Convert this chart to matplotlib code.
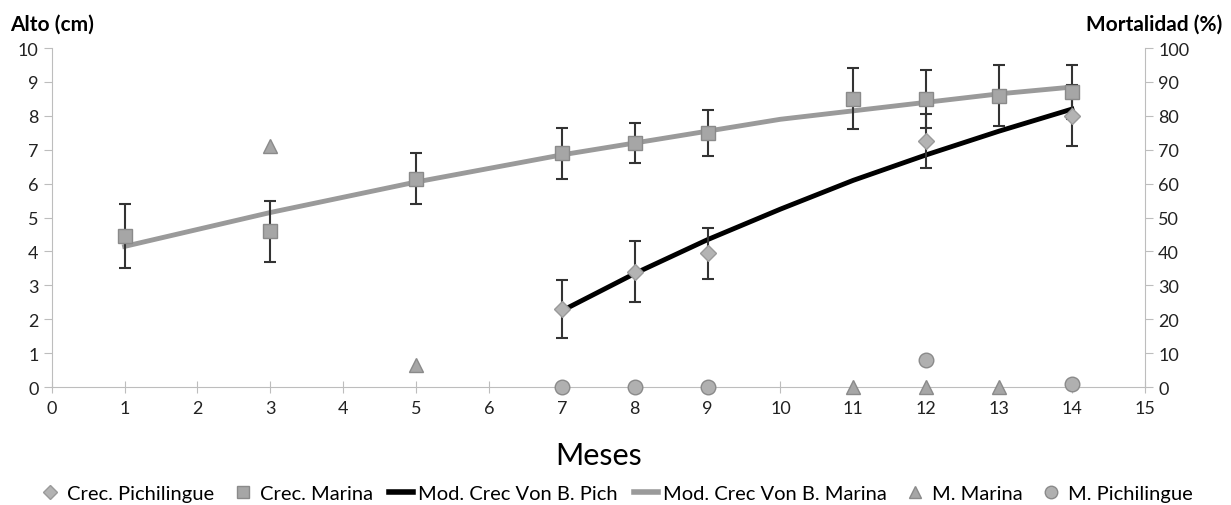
import matplotlib

matplotlib.use("Agg")
import matplotlib.pyplot as plt
from matplotlib.lines import Line2D

plt.rcParams["font.family"] = ["Lato", "DejaVu Sans"]

# crecimiento observado (alto, cm)
MES_PICH = [7, 8, 9, 12, 14]
ALTO_PICH = [2.3, 3.4, 3.95, 7.25, 8.0]
ERR_PICH = [0.85, 0.9, 0.75, 0.8, 0.9]

MES_MAR = [1, 3, 5, 7, 8, 9, 11, 12, 13, 14]
ALTO_MAR = [4.45, 4.6, 6.15, 6.9, 7.2, 7.5, 8.5, 8.5, 8.6, 8.7]
ERR_MAR = [0.95, 0.9, 0.75, 0.75, 0.6, 0.68, 0.9, 0.85, 0.9, 0.8]

# modelo von Bertalanffy
MOD_MAR_X = [1, 3, 5, 7, 8, 9, 10, 11, 12, 13, 14]
MOD_MAR_Y = [4.15, 5.15, 6.05, 6.85, 7.2, 7.55, 7.9, 8.15, 8.4, 8.65, 8.85]
MOD_PICH_X = [7, 8, 9, 10, 11, 12, 13, 14]
MOD_PICH_Y = [2.25, 3.35, 4.35, 5.25, 6.1, 6.85, 7.55, 8.2]

# mortalidad (%)
MORT_MAR_X = [3, 5, 11, 12, 13]
MORT_MAR_Y = [71, 6.5, 0, 0, 0]
MORT_PICH_X = [7, 8, 9, 12, 14]
MORT_PICH_Y = [0, 0, 0, 8, 1]

AXC = "#bdbdbd"
MK = "#a6a6a6"
MKE = "#8a8a8a"

fig = plt.figure(figsize=(12.31, 5.06), dpi=100)
ax = fig.add_axes([0.042, 0.233, 0.888, 0.670])
ax2 = ax.twinx()

ax.plot(MOD_MAR_X, MOD_MAR_Y, color="#9a9a9a", lw=3.5, zorder=2)
ax.plot(MOD_PICH_X, MOD_PICH_Y, color="black", lw=3.5, zorder=2)
ax.errorbar(MES_MAR, ALTO_MAR, yerr=ERR_MAR, fmt="s", ms=10.5, mfc=MK, mec=MKE,
            ecolor="#333333", elinewidth=1.5, capsize=4, capthick=1.5, zorder=3)
ax.errorbar(MES_PICH, ALTO_PICH, yerr=ERR_PICH, fmt="D", ms=8, mfc="#b3b3b3",
            mec="#9a9a9a", ecolor="#333333", elinewidth=1.5, capsize=4,
            capthick=1.5, zorder=3)

ax2.plot(MORT_MAR_X, MORT_MAR_Y, "^", ms=10.5, mfc=MK, mec=MKE, ls="none",
         zorder=3, clip_on=False)
ax2.plot(MORT_PICH_X, MORT_PICH_Y, "o", ms=10.5, mfc="#b0b0b0", mec=MKE,
         ls="none", zorder=3, clip_on=False)

ax.set_xlim(0, 15)
ax.set_ylim(0, 10)
ax2.set_ylim(0, 100)
ax.set_xticks(range(0, 16))
ax.set_yticks(range(0, 11))
ax2.set_yticks(range(0, 101, 10))

for a in (ax, ax2):
    for s in a.spines.values():
        s.set_color(AXC)
    a.spines["top"].set_visible(False)
    a.tick_params(colors=AXC, labelcolor="#222222", labelsize=13, length=6)
ax.tick_params(axis="x", direction="inout", length=8, pad=5)
ax2.spines["left"].set_visible(False)
ax2.spines["bottom"].set_visible(False)
ax.spines["right"].set_visible(False)

ax.set_xlabel("Meses", fontsize=22, labelpad=18)
fig.text(0.008, 0.94, "Alto (cm)", fontsize=15, fontweight="bold", ha="left")
fig.text(0.993, 0.94, "Mortalidad (%)", fontsize=15, fontweight="bold", ha="right")

handles = [
    Line2D([], [], marker="D", ls="none", ms=7, mfc="#b3b3b3", mec="#9a9a9a"),
    Line2D([], [], marker="s", ls="none", ms=9, mfc=MK, mec=MKE),
    Line2D([], [], color="black", lw=4),
    Line2D([], [], color="#9a9a9a", lw=4),
    Line2D([], [], marker="^", ls="none", ms=9, mfc=MK, mec=MKE),
    Line2D([], [], marker="o", ls="none", ms=9, mfc="#b0b0b0", mec=MKE),
]
labels = ["Crec. Pichilingue", "Crec. Marina", "Mod. Crec Von B. Pich",
          "Mod. Crec Von B. Marina", "M. Marina", "M. Pichilingue"]
fig.legend(handles, labels, loc="center", bbox_to_anchor=(0.5, 0.022), ncol=6,
           frameon=False, fontsize=14.5, handlelength=1.2, handletextpad=0.25,
           columnspacing=0.8)

fig.savefig("out.png", dpi=100)
